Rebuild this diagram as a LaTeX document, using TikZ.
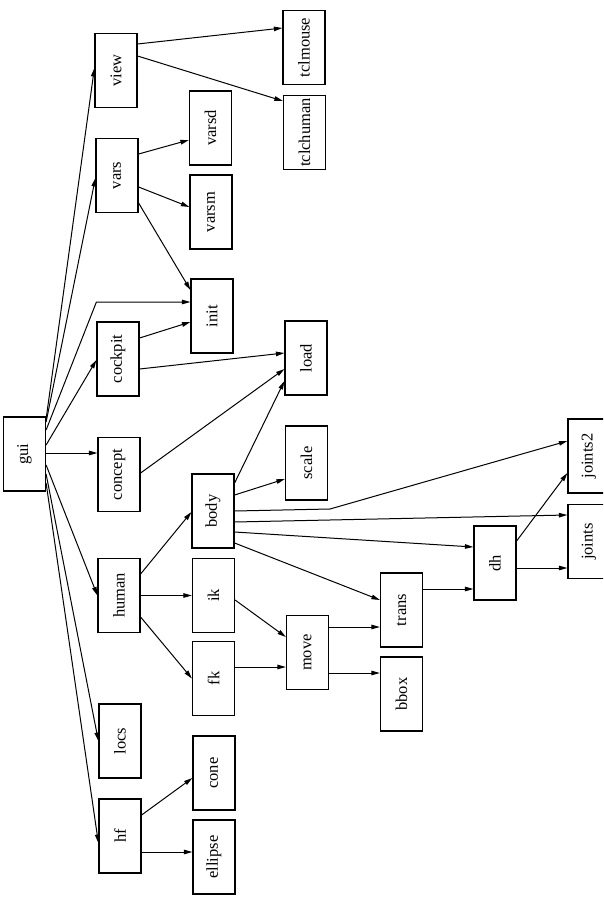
\documentclass[tikz,border=0pt]{standalone}
\usepackage{fontspec}
\setmainfont{Liberation Serif}
\usetikzlibrary{arrows.meta}
\begin{document}
\begin{tikzpicture}[x=1pt,y=-1pt,
  box/.style={draw, line width=1.2pt, minimum width=42pt, minimum height=74pt, inner sep=0pt,
    font=\fontsize{16.5}{19}\selectfont},
  edge/.style={line width=1pt, -{Triangle[length=8.5pt,width=4.5pt]}}]
\useasboundingbox (0,0) rectangle (603,900);
\clip (0,0) rectangle (603,900);
% column 0
\node[box] (gui) at (24.5,454) {\rotatebox{90}{gui}};
% column 1
\node[box] (view) at (116,70.5) {\rotatebox{90}{view}};
\node[box] (vars) at (117,175.5) {\rotatebox{90}{vars}};
\node[box] (cockpit) at (118,359) {\rotatebox{90}{cockpit}};
\node[box] (concept) at (119,474.5) {\rotatebox{90}{concept}};
\node[box] (human) at (119,595.5) {\rotatebox{90}{human}};
\node[box] (locs) at (120,741) {\rotatebox{90}{locs}};
\node[box] (hf) at (120,836) {\rotatebox{90}{hf}};
% column 2
\node[box] (varsd) at (210.5,128) {\rotatebox{90}{varsd}};
\node[box] (varsm) at (211,212) {\rotatebox{90}{varsm}};
\node[box] (init) at (212,316) {\rotatebox{90}{init}};
\node[box] (body) at (213,511) {\rotatebox{90}{body}};
\node[box] (ik) at (213.5,595.5) {\rotatebox{90}{ik}};
\node[box] (fk) at (213.5,678.5) {\rotatebox{90}{fk}};
\node[box] (cone) at (214,773) {\rotatebox{90}{cone}};
\node[box] (ellipse) at (214,857) {\rotatebox{90}{ellipse}};
% column 3
\node[box] (tclmouse) at (304,47.5) {\rotatebox{90}{tclmouse}};
\node[box] (tclchuman) at (304.5,132.5) {\rotatebox{90}{tclchuman}};
\node[box] (load) at (306,358) {\rotatebox{90}{load}};
\node[box] (scale) at (306.5,463) {\rotatebox{90}{scale}};
\node[box] (move) at (307.5,652.5) {\rotatebox{90}{move}};
% column 4
\node[box] (trans) at (401.5,610) {\rotatebox{90}{trans}};
\node[box] (bbox) at (401.5,694) {\rotatebox{90}{bbox}};
% column 5
\node[box] (dh) at (495,563) {\rotatebox{90}{dh}};
% column 6
\node[box] (joints) at (589,541.5) {\rotatebox{90}{joints}};
\node[box] (joints2) at (589,456) {\rotatebox{90}{joints2}};

% edges from gui
\draw[edge] ([yshift=35pt]gui.east) -- ([yshift=2.5pt]view.west);
\draw[edge] ([yshift=32pt]gui.east) -- ([yshift=-2.5pt]vars.west);
\coordinate (initin) at ([yshift=14pt]init.west);
\draw[edge] ([yshift=24pt]gui.east) -- (initin -| cockpit.west) -- (initin);
\draw[edge] ([yshift=9pt]gui.east) -- ([yshift=-1pt]cockpit.west);
\draw[edge] ([yshift=1pt]gui.east) -- ([yshift=21.5pt]concept.west);
\draw[edge] ([yshift=-11pt]gui.east) -- (human.west);
\draw[edge] ([yshift=-20pt]gui.east) -- (locs.west);
\draw[edge] ([yshift=-29pt]gui.east) -- ([yshift=-7pt]hf.west);
% view
\draw[edge] ([yshift=26.5pt]view.east) -- ([yshift=19.5pt]tclmouse.west);
\draw[edge] ([yshift=14.5pt]view.east) -- ([yshift=31.5pt]tclchuman.west);
% vars
\draw[edge] ([yshift=21.5pt]vars.east) -- ([yshift=-12pt]varsd.west);
\draw[edge] ([yshift=-11.5pt]vars.east) -- ([yshift=5pt]varsm.west);
\draw[edge] ([yshift=-27.5pt]vars.east) -- ([yshift=26pt]init.west);
% cockpit
\draw[edge] ([yshift=21pt]cockpit.east) -- ([yshift=-6pt]init.west);
\draw[edge] ([yshift=-10pt]cockpit.east) -- ([yshift=5pt]load.west);
% concept
\draw[edge] ([yshift=1.5pt]concept.east) -- ([yshift=-11pt]load.west);
% body
\draw[edge] ([yshift=28pt]body.east) -- ([yshift=-23pt]load.west);
\draw[edge] ([yshift=16pt]body.east) -- ([yshift=-16pt]scale.west);
\coordinate (bend) at (330,509);
\draw[edge] (body.east) -- (bend) -- ([yshift=15pt]joints2.west);
\draw[edge] ([yshift=-11pt]body.east) -- ([yshift=26.5pt]joints.west);
\draw[edge] ([yshift=-21pt]body.east) -- ([yshift=16pt]dh.west);
\draw[edge] ([yshift=-32pt]body.east) -- ([yshift=10pt]trans.west);
% human
\draw[edge] ([yshift=21.5pt]human.east) -- ([yshift=-1pt]body.west);
\draw[edge] (human.east) -- (ik.west);
\draw[edge] ([yshift=-21.5pt]human.east) -- (fk.west);
% ik, fk
\draw[edge] ([yshift=-4.5pt]ik.east) -- ([yshift=15.5pt]move.west);
\draw[edge] ([yshift=11.5pt]fk.east) -- ([yshift=-14.5pt]move.west);
% move
\draw[edge] ([yshift=25.5pt]move.east) -- ([yshift=-17pt]trans.west);
\draw[edge] ([yshift=-20.5pt]move.east) -- ([yshift=21pt]bbox.west);
% trans, dh
\draw[edge] ([yshift=21pt]trans.east) -- ([yshift=-26pt]dh.west);
\draw[edge] ([yshift=22pt]dh.east) -- ([yshift=-17pt]joints2.west);
\draw[edge] ([yshift=-5pt]dh.east) -- ([yshift=-26.5pt]joints.west);
% hf
\draw[edge] ([yshift=21pt]hf.east) -- ([yshift=-5pt]cone.west);
\draw[edge] ([yshift=-16pt]hf.east) -- ([yshift=5pt]ellipse.west);
\end{tikzpicture}
\end{document}
